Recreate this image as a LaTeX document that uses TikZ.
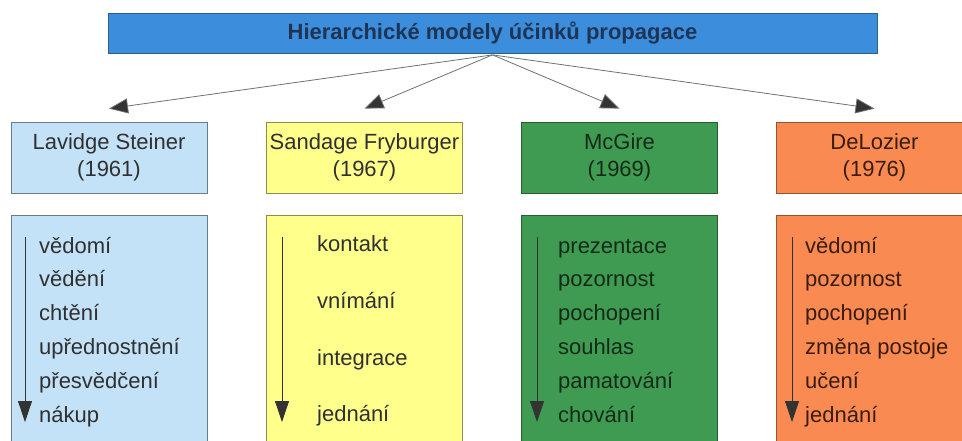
\documentclass[tikz,border=0pt]{standalone}
\usepackage{fontspec}
\setmainfont{Liberation Sans}
\usetikzlibrary{arrows.meta}

\definecolor{barblue}{HTML}{3C8EDC}
\definecolor{barline}{HTML}{2D5F8E}
\definecolor{titleink}{HTML}{1E3454}
\definecolor{lblue}{HTML}{C3E2F8}
\definecolor{lyellow}{HTML}{FFFF8C}
\definecolor{mgreen}{HTML}{3F9B52}
\definecolor{morange}{HTML}{F98B52}
\definecolor{ink}{HTML}{303030}
\definecolor{greenink}{HTML}{142A18}
\definecolor{orangeink}{HTML}{3A1C0C}
\definecolor{wire}{HTML}{707070}
\definecolor{tipgray}{HTML}{333333}

\tikzset{
  txt/.style={font=\fontsize{22}{27}\selectfont},
  hdrbox/.style={txt, minimum width=196pt, minimum height=71pt, inner sep=0pt,
    align=center, line width=0.8pt},
  bodybox/.style={minimum width=196pt, minimum height=235pt, inner sep=0pt,
    line width=0.8pt},
  item/.style={txt, anchor=base west, inner sep=0pt},
  fan/.style={draw=wire, line width=0.8pt,
    -{Triangle[length=19pt,width=15pt,fill=tipgray]}},
  flow/.style={draw=tipgray, line width=0.8pt,
    -{Triangle[length=21pt,width=14pt,fill=tipgray]}}
}

\begin{document}
\begin{tikzpicture}[x=1pt, y=-1pt]
  \useasboundingbox (0,0) rectangle (962,440);
  \clip (0,0) rectangle (962,440);

  % title bar
  \node[draw=barline, fill=barblue, minimum width=769pt, minimum height=40pt,
        inner sep=0pt, line width=0.8pt, text=titleink,
        font=\fontsize{22}{26}\selectfont\bfseries] (title) at (492.5,33)
        {Hierarchické modely účinků propagace};

  % model headers
  \node[hdrbox, fill=lblue,   draw=lblue!55!black,   text=ink]       (h1) at (109,157.5)   {Lavidge Steiner\\(1961)};
  \node[hdrbox, fill=lyellow, draw=lyellow!55!black, text=ink]       (h2) at (364.5,157.5) {Sandage Fryburger\\(1967)};
  \node[hdrbox, fill=mgreen,  draw=mgreen!60!black,  text=greenink]  (h3) at (619.5,157.5) {McGire\\(1969)};
  \node[hdrbox, fill=morange, draw=morange!60!black, text=orangeink] (h4) at (874.5,157.5) {DeLozier\\(1976)};

  % stage boxes
  \node[bodybox, fill=lblue,   draw=lblue!55!black]   (b1) at (109,332.5)   {};
  \node[bodybox, fill=lyellow, draw=lyellow!55!black] (b2) at (364.5,332.5) {};
  \node[bodybox, fill=mgreen,  draw=mgreen!60!black]  (b3) at (619.5,332.5) {};
  \node[bodybox, fill=morange, draw=morange!60!black] (b4) at (874.5,332.5) {};

  % fan-out connectors from the title
  \coordinate (hub) at ([yshift=-1.5pt]title.south);
  \foreach \i in {1,...,4} {
    \coordinate (t\i) at ([yshift=13pt]h\i.north);
    \draw[fan] (hub) -- (t\i);
  }

  % direction of the stages inside each box
  \foreach \i/\x in {1/25, 2/282, 3/537, 4/792} {
    \coordinate (s\i) at (\x,237);
    \coordinate (e\i) at (\x,422);
    \draw[flow] (s\i) -- (e\i);
  }

  % Lavidge Steiner
  \begin{scope}[text=ink]
    \node[item] (l1) at (39,253)   {vědomí};
    \node[item] (l2) at (39,286.8) {vědění};
    \node[item] (l3) at (39,320.6) {chtění};
    \node[item] (l4) at (39,354.4) {upřednostnění};
    \node[item] (l5) at (39,388.2) {přesvědčení};
    \node[item] (l6) at (39,422)   {nákup};
  \end{scope}

  % Sandage Fryburger
  \begin{scope}[text=ink]
    \node[item] (s1n) at (317,251) {kontakt};
    \node[item] (s2n) at (317,308) {vnímání};
    \node[item] (s3n) at (317,365) {integrace};
    \node[item] (s4n) at (317,421) {jednání};
  \end{scope}

  % McGire
  \begin{scope}[text=greenink]
    \node[item] (m1) at (558,253)   {prezentace};
    \node[item] (m2) at (558,286.8) {pozornost};
    \node[item] (m3) at (558,320.6) {pochopení};
    \node[item] (m4) at (558,354.4) {souhlas};
    \node[item] (m5) at (558,388.2) {pamatování};
    \node[item] (m6) at (558,422)   {chování};
  \end{scope}

  % DeLozier
  \begin{scope}[text=orangeink]
    \node[item] (d1) at (805,253)   {vědomí};
    \node[item] (d2) at (805,286.8) {pozornost};
    \node[item] (d3) at (805,320.6) {pochopení};
    \node[item] (d4) at (805,354.4) {změna postoje};
    \node[item] (d5) at (805,388.2) {učení};
    \node[item] (d6) at (805,422)   {jednání};
  \end{scope}
\end{tikzpicture}
\end{document}
